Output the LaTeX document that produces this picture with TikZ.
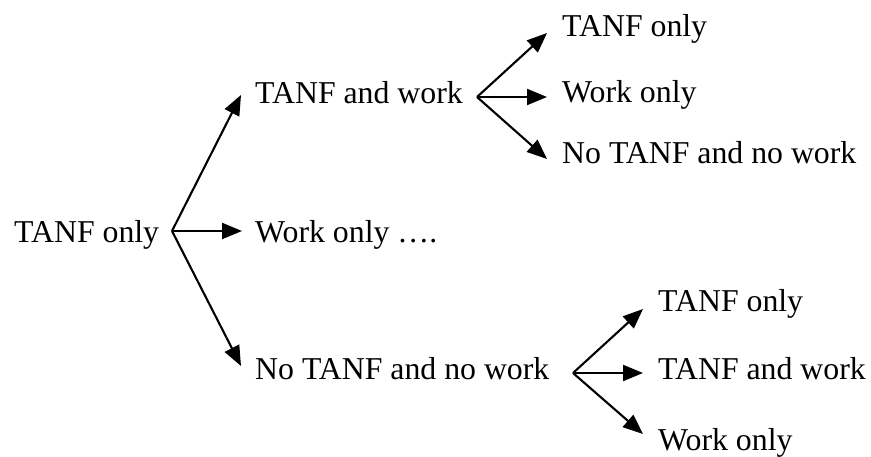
\documentclass[tikz,border=0pt]{standalone}
\usepackage{fontspec}
\setmainfont{Liberation Serif}
\usetikzlibrary{arrows.meta}
\tikzset{
  lbl/.style={anchor=base west, inner sep=0pt, font=\fontsize{31.8}{36}\selectfont},
  arr/.style={line width=2.1pt, -{Triangle[length=20pt,width=16pt]}}
}
\begin{document}
\begin{tikzpicture}[x=1pt,y=-1pt]
\useasboundingbox (0,0) rectangle (871,457);
% texts
\node[lbl] (root) at (14,243) {TANF only};
\node[lbl] (tw) at (255,104) {TANF and work};
\node[lbl] (wo) at (255,243) {Work only \dots.};
\node[lbl] (nn) at (255,379) {No TANF and no work};
\node[lbl] (tw1) at (562,37) {TANF only};
\node[lbl] (tw2) at (562,103) {Work only};
\node[lbl] (tw3) at (562,164) {No TANF and no work};
\node[lbl] (nn1) at (658,312) {TANF only};
\node[lbl] (nn2) at (658,380) {TANF and work};
\node[lbl] (nn3) at (658,450) {Work only};
% branch points and tips
\coordinate (A) at (172,231);
\coordinate (Atw) at (241,95);
\coordinate (Awo) at (242,231);
\coordinate (Ann) at (241,366);
\coordinate (B) at (477,97);
\coordinate (B1) at (547,33);
\coordinate (B2) at (547,97);
\coordinate (B3) at (547,159);
\coordinate (C) at (573,373);
\coordinate (C1) at (643,309);
\coordinate (C2) at (643,373);
\coordinate (C3) at (643,434);
% connectors
\draw[arr] (A) -- (Atw);
\draw[arr] (A) -- (Awo);
\draw[arr] (A) -- (Ann);
\draw[arr] (B) -- (B1);
\draw[arr] (B) -- (B2);
\draw[arr] (B) -- (B3);
\draw[arr] (C) -- (C1);
\draw[arr] (C) -- (C2);
\draw[arr] (C) -- (C3);
\end{tikzpicture}
\end{document}
